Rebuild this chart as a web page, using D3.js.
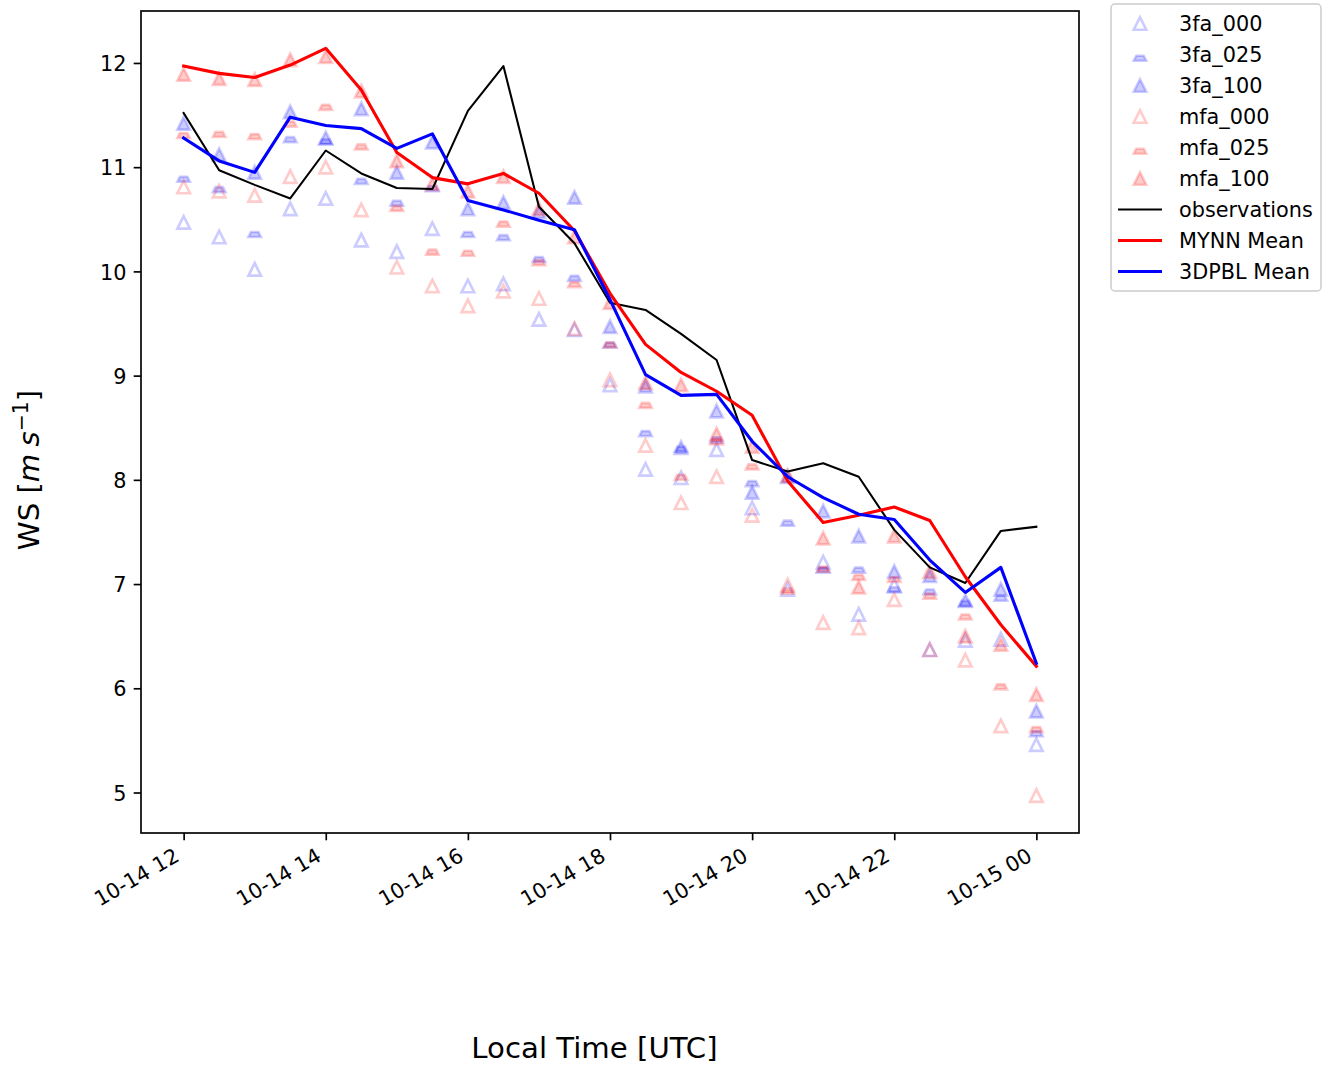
<!DOCTYPE html>
<html>
<head>
<meta charset="utf-8">
<script src="https://cdn.jsdelivr.net/npm/d3@7"></script>
<style>
  body { margin: 0; background: #fff; }
  svg { display: block; }
  text { font-family: "DejaVu Sans", sans-serif; }
</style>
</head>
<body>
<svg id="chart" width="1325" height="1065"></svg>
<script>
// Half-hourly valid times (local time axis, UTC)
const times = [
  "2021-10-14 12:00", "2021-10-14 12:30", "2021-10-14 13:00", "2021-10-14 13:30",
  "2021-10-14 14:00", "2021-10-14 14:30", "2021-10-14 15:00", "2021-10-14 15:30",
  "2021-10-14 16:00", "2021-10-14 16:30", "2021-10-14 17:00", "2021-10-14 17:30",
  "2021-10-14 18:00", "2021-10-14 18:30", "2021-10-14 19:00", "2021-10-14 19:30",
  "2021-10-14 20:00", "2021-10-14 20:30", "2021-10-14 21:00", "2021-10-14 21:30",
  "2021-10-14 22:00", "2021-10-14 22:30", "2021-10-14 23:00", "2021-10-14 23:30",
  "2021-10-15 00:00"
];

// Wind speed members [m s-1]
const fa3_000 = [10.47, 10.33, 10.02, 10.60, 10.70, 10.30, 10.19, 10.41, 9.86, 9.88, 9.54, 9.44, 8.91, 8.10, 8.02, 8.29, 7.73, 6.95, 7.21, 6.71, 6.99, 6.37, 6.46, 6.47, 5.46];
const fa3_025 = [10.92, 10.82, 10.39, 11.30, 11.28, 10.90, 10.69, 10.83, 10.39, 10.36, 10.15, 9.97, 9.33, 8.48, 8.33, 8.42, 8.00, 7.62, 7.17, 7.17, 6.98, 6.96, 6.85, 6.90, 5.60];
const fa3_100 = [11.42, 11.12, 10.95, 11.53, 11.28, 11.56, 10.95, 11.24, 10.60, 10.66, 10.57, 10.71, 9.47, 8.90, 8.31, 8.66, 7.88, 8.03, 7.70, 7.46, 7.12, 7.08, 6.84, 6.95, 5.78];
const mfa_000 = [10.81, 10.77, 10.73, 10.91, 11.00, 10.59, 10.04, 9.86, 9.67, 9.81, 9.74, 9.45, 8.96, 8.33, 7.78, 8.03, 7.66, 6.99, 6.63, 6.58, 6.85, 6.37, 6.27, 5.64, 4.97];
const mfa_025 = [11.34, 11.35, 11.33, 11.45, 11.61, 11.23, 10.64, 10.22, 10.21, 10.49, 10.12, 9.91, 9.33, 8.75, 8.06, 8.40, 8.16, 6.97, 7.18, 7.10, 7.08, 6.92, 6.72, 6.05, 5.64];
const mfa_100 = [11.89, 11.85, 11.84, 12.03, 12.06, 11.73, 11.06, 10.84, 10.77, 10.91, 10.60, 10.33, 9.70, 8.93, 8.91, 8.44, 8.32, 8.04, 7.44, 6.97, 7.46, 7.12, 6.50, 6.42, 5.94];

// Observations and ensemble means
const observations = [11.52, 10.97, 10.83, 10.70, 11.16, 10.94, 10.80, 10.79, 11.54, 11.97, 10.62, 10.27, 9.70, 9.63, 9.40, 9.15, 8.19, 8.08, 8.16, 8.03, 7.52, 7.16, 7.01, 7.51, 7.55];
const mynnMean     = [11.97, 11.90, 11.86, 11.98, 12.14, 11.74, 11.14, 10.90, 10.84, 10.94, 10.75, 10.39, 9.79, 9.30, 9.03, 8.85, 8.62, 7.99, 7.59, 7.66, 7.74, 7.61, 7.07, 6.61, 6.21];
const pbl3dMean    = [11.28, 11.06, 10.95, 11.48, 11.40, 11.37, 11.18, 11.32, 10.68, 10.59, 10.49, 10.40, 9.73, 9.01, 8.81, 8.82, 8.37, 8.03, 7.83, 7.67, 7.62, 7.23, 6.92, 7.16, 6.24];

// Tick values
const yTicks = [5, 6, 7, 8, 9, 10, 11, 12];
const xTickStrings = ["2021-10-14 12:00", "2021-10-14 14:00", "2021-10-14 16:00", "2021-10-14 18:00",
                      "2021-10-14 20:00", "2021-10-14 22:00", "2021-10-15 00:00"];

const parse = d3.timeParse("%Y-%m-%d %H:%M");
const dates = times.map(parse);
const xTicks = xTickStrings.map(parse);

const markerSeries = [
  { name: "3fa_000", values: fa3_000, color: "blue", kind: "open" },
  { name: "3fa_025", values: fa3_025, color: "blue", kind: "trap" },
  { name: "3fa_100", values: fa3_100, color: "blue", kind: "filled" },
  { name: "mfa_000", values: mfa_000, color: "red",  kind: "open" },
  { name: "mfa_025", values: mfa_025, color: "red",  kind: "trap" },
  { name: "mfa_100", values: mfa_100, color: "red",  kind: "filled" }
];
const lineSeries = [
  { name: "observations", values: observations, color: "black", width: 2.08 },
  { name: "MYNN Mean",    values: mynnMean,     color: "red",   width: 3.1 },
  { name: "3DPBL Mean",   values: pbl3dMean,    color: "blue",  width: 3.1 }
];

// Axes box
const plot = { left: 141, right: 1079, top: 11, bottom: 833 };
const svg = d3.select("#chart");

// Data limits with 5% margins
const tExt = d3.extent(dates);
const tPad = (tExt[1] - tExt[0]) * 0.05;
const x = d3.scaleTime()
  .domain([new Date(+tExt[0] - tPad), new Date(+tExt[1] + tPad)])
  .range([plot.left, plot.right]);

const allVals = [].concat(...markerSeries.map(s => s.values), ...lineSeries.map(s => s.values));
const vExt = d3.extent(allVals);
const vPad = (vExt[1] - vExt[0]) * 0.05;
const y = d3.scaleLinear()
  .domain([vExt[0] - vPad, vExt[1] + vPad])
  .range([plot.bottom, plot.top]);

// Marker shapes (triangle half-size in px)
const S = 6.25;
const EDGE = 2.7;
const triPath = `M0,${-S}L${-S},${S}L${S},${S}Z`;
const trapPath = `M${-(S - 2.5)},${S - 5}L${S - 2.5},${S - 5}L${S},${S}L${-S},${S}Z`;

function drawMarker(g, kind, color) {
  if (kind === "open") {
    g.append("path").attr("d", triPath)
      .attr("fill", "none").attr("stroke", color)
      .attr("stroke-opacity", 0.2).attr("stroke-width", EDGE);
  } else if (kind === "filled") {
    g.append("path").attr("d", triPath)
      .attr("fill", color).attr("fill-opacity", 0.2)
      .attr("stroke", color).attr("stroke-opacity", 0.2).attr("stroke-width", EDGE);
  } else {
    g.append("path").attr("d", trapPath)
      .attr("fill", color).attr("fill-opacity", 0.2)
      .attr("stroke", color).attr("stroke-opacity", 0.2).attr("stroke-width", EDGE);
  }
}

// Scatter members
const pts = svg.append("g");
markerSeries.forEach(s => {
  s.values.forEach((v, i) => {
    const g = pts.append("g").attr("transform", `translate(${x(dates[i])},${y(v)})`);
    drawMarker(g, s.kind, s.color);
  });
});

// Lines
const line = d3.line().x((d, i) => x(dates[i])).y(d => y(d));
lineSeries.forEach(s => {
  svg.append("path").datum(s.values)
    .attr("d", line)
    .attr("fill", "none")
    .attr("stroke", s.color)
    .attr("stroke-width", s.width)
    .attr("stroke-linejoin", "round")
    .attr("stroke-linecap", "square");
});

// Frame
svg.append("rect")
  .attr("x", plot.left).attr("y", plot.top)
  .attr("width", plot.right - plot.left).attr("height", plot.bottom - plot.top)
  .attr("fill", "none").attr("stroke", "black").attr("stroke-width", 1.67);

// Y axis
const yAxis = d3.axisLeft(y).tickValues(yTicks).tickSize(7.3).tickPadding(7.3).tickFormat(d3.format("d"));
const gy = svg.append("g").attr("transform", `translate(${plot.left},0)`).call(yAxis);
gy.select(".domain").remove();
gy.selectAll(".tick line").attr("stroke", "black").attr("stroke-width", 1.67);
gy.selectAll(".tick text")
  .attr("font-family", "DejaVu Sans").attr("font-size", 20.8).attr("fill", "black")
  .attr("dy", null).attr("y", 7.6);

// X axis (rotated date labels)
const fmt = d3.timeFormat("%m-%d %H");
const xAxis = d3.axisBottom(x).tickValues(xTicks).tickSize(7.3).tickFormat(fmt);
const gx = svg.append("g").attr("transform", `translate(0,${plot.bottom})`).call(xAxis);
gx.select(".domain").remove();
gx.selectAll(".tick line").attr("stroke", "black").attr("stroke-width", 1.67);
gx.selectAll(".tick text")
  .attr("font-family", "DejaVu Sans").attr("font-size", 20.8).attr("fill", "black")
  .attr("text-anchor", "end")
  .attr("dy", null)
  .attr("x", -3.5).attr("y", 27.0)
  .attr("transform", "rotate(-30,-3.5,27.0)");

// Axis titles
svg.append("text")
  .attr("x", 594.5).attr("y", 1058)
  .attr("text-anchor", "middle").attr("font-size", 29.2)
  .text("Local Time [UTC]");

const yl = svg.append("text")
  .attr("transform", "translate(39,470) rotate(-90)")
  .attr("text-anchor", "middle").attr("font-size", 29.2);
yl.append("tspan").text("WS [");
yl.append("tspan").attr("font-style", "italic").text("m");
yl.append("tspan").text("\u2005");
yl.append("tspan").attr("font-style", "italic").text("s");
yl.append("tspan").attr("font-size", 20.4).attr("dy", -11).text("\u22121");
yl.append("tspan").attr("dy", 11).text("]");

// Legend
const legend = svg.append("g");
legend.append("rect")
  .attr("x", 1111).attr("y", 4).attr("width", 210).attr("height", 287).attr("rx", 4)
  .attr("fill", "white").attr("fill-opacity", 0.8)
  .attr("stroke", "#cccccc").attr("stroke-width", 1.5);

const legendItems = markerSeries.map(s => ({ name: s.name, type: "marker", s }))
  .concat(lineSeries.map(s => ({ name: s.name, type: "line", s })));
legendItems.forEach((it, k) => {
  const cy = 23.5 + 31 * k;
  if (it.type === "marker") {
    const g = legend.append("g").attr("transform", `translate(1140,${cy})`);
    drawMarker(g, it.s.kind, it.s.color);
  } else {
    legend.append("line")
      .attr("x1", 1118).attr("x2", 1162).attr("y1", cy).attr("y2", cy)
      .attr("stroke", it.s.color).attr("stroke-width", it.s.width);
  }
  legend.append("text")
    .attr("x", 1179).attr("y", cy + 7.5)
    .attr("font-size", 20.8).attr("fill", "black")
    .text(it.name);
});
</script>
</body>
</html>
